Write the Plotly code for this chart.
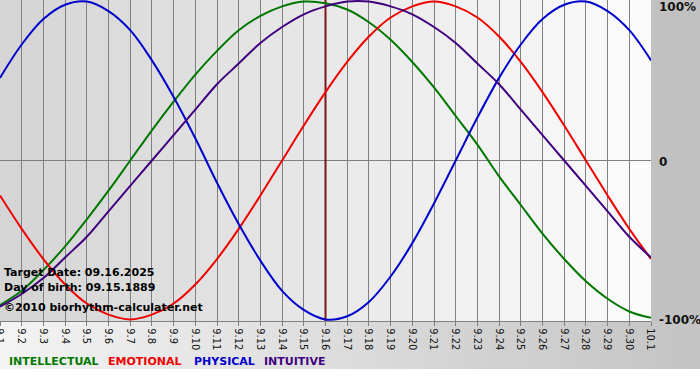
import plotly.graph_objects as go

# ---- data -------------------------------------------------------------
day_labels = ["9.1", "9.2", "9.3", "9.4", "9.5", "9.6", "9.7", "9.8", "9.9", "9.10",
              "9.11", "9.12", "9.13", "9.14", "9.15", "9.16", "9.17", "9.18", "9.19", "9.20",
              "9.21", "9.22", "9.23", "9.24", "9.25", "9.26", "9.27", "9.28", "9.29", "9.30",
              "10.1"]
physical = [0.52, 0.73, 0.89, 0.98, 1.00, 0.94, 0.82, 0.63, 0.40, 0.14,
            -0.14, -0.40, -0.63, -0.82, -0.94, -1.00, -0.98, -0.89, -0.73, -0.52,
            -0.27, 0.00, 0.27, 0.52, 0.73, 0.89, 0.98, 1.00, 0.94, 0.82, 0.63]
emotional = [-0.22, -0.43, -0.62, -0.78, -0.90, -0.97, -1.00, -0.97, -0.90, -0.78,
             -0.62, -0.43, -0.22, 0.00, 0.22, 0.43, 0.62, 0.78, 0.90, 0.97,
             1.00, 0.97, 0.90, 0.78, 0.62, 0.43, 0.22, 0.00, -0.22, -0.43, -0.62]
intellectual = [-0.91, -0.82, -0.69, -0.54, -0.37, -0.19, 0.00, 0.19, 0.37, 0.54,
                0.69, 0.82, 0.91, 0.97, 1.00, 0.99, 0.95, 0.87, 0.76, 0.62,
                0.46, 0.28, 0.10, -0.10, -0.28, -0.46, -0.62, -0.76, -0.87, -0.95, -0.99]
intuitive = [-0.92, -0.84, -0.74, -0.61, -0.48, -0.32, -0.16, 0.00, 0.16, 0.32,
             0.48, 0.61, 0.74, 0.84, 0.92, 0.97, 1.00, 1.00, 0.97, 0.92,
             0.84, 0.74, 0.61, 0.48, 0.32, 0.16, 0.00, -0.16, -0.32, -0.48, -0.61]
target_label = "9.16"
y_tick_vals = [1, 0, -1]
y_tick_text = ["100%", "0", "-100%"]
info_lines = ["Target Date: 09.16.2025", "Day of birth: 09.15.1889",
              "\u00a92010 biorhythm-calculater.net"]
series_names = ["INTELLECTUAL", "EMOTIONAL", "PHYSICAL", "INTUITIVE"]

# ---- style ------------------------------------------------------------
W, H = 700, 380
ML, MR, MT, MB = 0, 49, 0, 59
PW, PH = W - ML - MR, H - MT - MB
colors = {"INTELLECTUAL": "#007800", "EMOTIONAL": "#f00000",
          "PHYSICAL": "#0000cc", "INTUITIVE": "#40007f"}
grid = "#808080"

x = list(range(len(day_labels)))
n = len(day_labels)

def px_x(p):
    return (p - ML) / PW

def px_y(p):
    return (PH - (p - MT)) / PH

def lerp_gray(a, b, t):
    v = round(a + (b - a) * t)
    return f"rgb({v},{v},{v})"

fig = go.Figure()

# target date marker line
ti = day_labels.index(target_label)
fig.add_trace(go.Scatter(x=[x[ti], x[ti]], y=[-1.2, 1.2], mode="lines",
                         line=dict(color="#7a1818", width=2),
                         hoverinfo="skip", showlegend=False))

for name, vals in [("INTELLECTUAL", intellectual), ("EMOTIONAL", emotional),
                   ("PHYSICAL", physical), ("INTUITIVE", intuitive)]:
    fig.add_trace(go.Scatter(x=x, y=vals, mode="lines", name=name,
                             line=dict(color=colors[name], width=2, shape="spline",
                                       smoothing=1.0),
                             showlegend=False))

shapes = []
# plot-area horizontal gradient
for i in range(n - 1):
    shapes.append(dict(type="rect", xref="x", yref="paper", x0=i, x1=i + 1,
                       y0=0, y1=1, line_width=0, layer="below",
                       fillcolor=lerp_gray(213, 251, i / (n - 2))))
# right margin
shapes.append(dict(type="rect", xref="paper", yref="paper", x0=1, x1=W / PW,
                   y0=0, y1=1.01, line_width=0, layer="below", fillcolor="#c1c1c1"))
# bottom band gradient
steps = 50
for i in range(steps):
    shapes.append(dict(type="rect", xref="paper", yref="paper",
                       x0=px_x(i * W / steps), x1=px_x((i + 1) * W / steps + 0.5),
                       y0=px_y(369), y1=0, line_width=0, layer="below",
                       fillcolor=lerp_gray(243, 196, i / (steps - 1))))

annotations = []
# right-side axis labels
for v, t in zip(y_tick_vals, y_tick_text):
    a = dict(xref="paper", yref="y", x=1, xshift=6, y=v, text=f"<b>{t}</b>",
             showarrow=False, xanchor="left", yanchor="middle",
             font=dict(family="DejaVu Sans", size=12, color="#111"))
    if v == 1:
        a.update(yanchor="top", y=1.01, yshift=2)
    else:
        a.update(yshift=-1)
    annotations.append(a)

# info text
for t, yc in zip(info_lines, [272, 287, 307]):
    annotations.append(dict(xref="paper", yref="paper", x=px_x(2), y=px_y(yc),
                            text=f"<b>{t}</b>", showarrow=False, xanchor="left",
                            yanchor="middle",
                            font=dict(family="DejaVu Sans", size=11, color="#000")))

# legend words
for name, xl in zip(series_names, [7, 106, 192, 262]):
    annotations.append(dict(xref="paper", yref="paper", x=px_x(xl), y=px_y(362),
                            text=f"<b>{name}</b>", showarrow=False, xanchor="left",
                            yanchor="middle",
                            font=dict(family="DejaVu Sans", size=11,
                                      color=colors[name])))

fig.update_layout(
    width=W, height=H,
    margin=dict(l=ML, r=MR, t=MT, b=MB, pad=0, autoexpand=False),
    paper_bgcolor="#ffffff", plot_bgcolor="rgba(0,0,0,0)",
    shapes=shapes, annotations=annotations, showlegend=False,
    xaxis=dict(range=[0, n - 1], tickvals=x, ticktext=day_labels, tickangle=90,
               showgrid=True, gridcolor=grid, gridwidth=1, zeroline=False,
               showline=True, linecolor=grid, linewidth=1,
               ticks="outside", ticklen=4, tickcolor=grid,
               ticklabeloverflow="allow", automargin=False,
               tickfont=dict(family="Liberation Sans Narrow, Arial Narrow, DejaVu Sans Condensed, sans-serif",
                             size=11, color="#111"),
               fixedrange=True),
    yaxis=dict(range=[-1.01, 1.01], showgrid=False, zeroline=True,
               zerolinecolor=grid, zerolinewidth=1, showticklabels=False,
               automargin=False, fixedrange=True),
)

fig.write_html("out.html")
